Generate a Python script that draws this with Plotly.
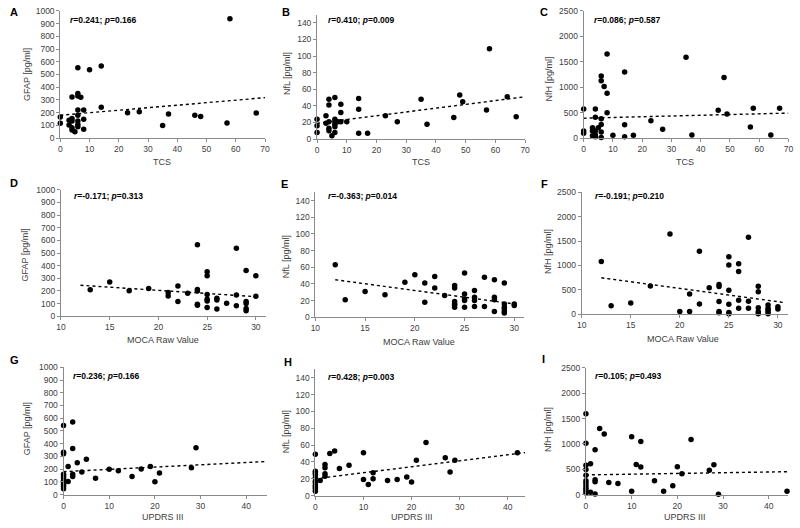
import plotly.graph_objects as go

W, H = 800, 528

# ---------------- data ----------------
A_TCS = [0, 0, 3, 3, 4, 4, 4, 4, 4, 5, 6, 6, 6, 6, 6, 6, 6, 6, 7, 8, 8, 8, 10, 14, 14,
         23, 27, 35, 37, 46, 48, 57, 58, 67]
A_GFAP = [167, 116, 141, 103, 324, 154, 134, 82, 64, 51, 553, 350, 332, 221, 180, 134, 108, 90,
          321, 221, 149, 69, 537, 566, 242, 200, 208, 100, 190, 180, 170, 118, 938, 198]

B_TCS = [0, 0, 0, 3, 3, 4, 4, 4, 4, 4, 5, 6, 6, 6, 6, 6, 6, 7, 8, 8, 8, 10, 14, 14, 14, 17,
         23, 27, 35, 37, 46, 48, 49, 57, 58, 64, 67]
B_NFL = [24, 16, 8, 28, 19, 48, 41, 21, 13, 10, 4, 50, 24, 21, 18, 15, 8, 21, 42, 32, 21, 21,
         49, 36, 7, 7, 28, 21, 48, 18, 26, 53, 45, 35, 109, 51, 27]

C_TCS = [0, 0, 0, 3, 3, 3, 4, 4, 4, 4, 4, 5, 6, 6, 6, 6, 6, 6, 7, 8, 8, 8, 10, 14, 14, 14, 17,
         23, 27, 35, 37, 46, 48, 49, 57, 58, 64, 67]
C_NFH = [572, 141, 96, 206, 141, 45, 572, 411, 141, 64, 26, 206, 1221, 1125, 379, 270, 122, 13,
         1015, 1652, 880, 501, 58, 1298, 263, 26, 58, 341, 174, 1588, 64, 546, 1189, 476, 219,
         585, 64, 585]

D_MOCA = [13, 15, 17, 19, 21, 21, 22, 22, 23, 24, 24, 24, 24, 24, 25, 25, 25, 25, 25, 25,
          26, 26, 26, 27, 28, 28, 28, 29, 29, 29, 29, 29, 30, 30]
D_GFAP = [209, 271, 202, 220, 187, 160, 240, 116, 183, 566, 212, 199, 96, 88, 351, 320, 173,
          134, 121, 70, 142, 129, 57, 103, 537, 168, 83, 362, 116, 101, 62, 44, 320, 158]

E_MOCA = [12, 13, 15, 17, 19, 20, 21, 21, 22, 22, 23, 24, 24, 24, 24, 24, 24, 25, 25, 25, 25,
          25, 26, 26, 26, 26, 27, 27, 28, 28, 28, 28, 29, 29, 29, 29, 29, 29, 30, 30]
E_NFL = [63, 21, 31, 27, 42, 51, 41, 18, 49, 35, 26, 38, 35, 19, 16, 15, 12, 53, 28, 22, 20,
         12, 32, 24, 20, 13, 48, 13, 45, 24, 21, 7, 41, 16, 12, 10, 7, 5, 16, 14]

F_MOCA = [12, 13, 15, 17, 19, 20, 21, 21, 22, 22, 23, 24, 24, 24, 24, 24, 25, 25, 25, 25, 25,
          25, 26, 26, 26, 26, 27, 27, 27, 28, 28, 28, 28, 28, 29, 29, 29, 29, 29, 30, 30]
F_NFH = [1080, 168, 228, 578, 1646, 54, 54, 410, 1290, 208, 538, 605, 565, 255, 54, 27, 1176,
         1008, 490, 202, 34, 5, 1035, 874, 282, 121, 1579, 262, 121, 571, 457, 128, 47, 5, 188,
         121, 81, 47, 5, 148, 101]

G_UPDRS = [0, 0, 0, 0, 0, 0, 0, 0, 0, 0, 0, 1, 1, 2, 2, 2, 2, 3, 4, 5, 7, 10, 12, 15, 17, 19,
           20, 21, 28, 29]
G_GFAP = [542, 332, 321, 159, 145, 130, 110, 95, 80, 65, 45, 221, 103, 571, 362, 159, 141, 249,
          177, 278, 129, 198, 188, 141, 200, 221, 100, 170, 211, 368]

H_UPDRS = [0, 0, 0, 0, 0, 0, 0, 0, 0, 0, 0, 1, 2, 2, 2, 2, 3, 4, 5, 7, 10, 10, 11, 12, 12, 15,
           17, 19, 20, 21, 23, 27, 28, 29, 42]
H_NFL = [49, 29, 27, 25, 21, 17, 15, 12, 10, 8, 5, 18, 37, 33, 26, 23, 50, 53, 32, 36, 51, 19,
         13, 27, 20, 18, 19, 22, 16, 42, 63, 45, 28, 42, 51]

I_UPDRS = [0, 0, 0, 0, 0, 0, 0, 0, 0, 0, 0, 1, 1, 2, 2, 2, 2, 3, 4, 5, 7, 10, 10, 11, 12, 12,
           15, 17, 19, 20, 21, 23, 27, 28, 29, 44]
I_NFH = [1596, 1014, 581, 497, 381, 271, 226, 174, 123, 78, 32, 607, 45, 885, 291, 252, 13, 1305,
         1195, 239, 220, 1143, 65, 594, 1047, 543, 271, 65, 174, 549, 413, 1085, 478, 588, 5, 65]

# linear trend lines (end points)
TREND_A_X, TREND_A_Y = [0, 70], [180, 318]
TREND_B_X, TREND_B_Y = [0, 70], [19, 51]
TREND_C_X, TREND_C_Y = [0, 70], [392, 492]
TREND_D_X, TREND_D_Y = [12, 30], [245, 155]
TREND_E_X, TREND_E_Y = [12, 30], [45, 16]
TREND_F_X, TREND_F_Y = [12, 30.5], [745, 240]
TREND_G_X, TREND_G_Y = [0, 44.5], [180, 260]
TREND_H_X, TREND_H_Y = [0, 43.6], [20, 51]
TREND_I_X, TREND_I_Y = [0, 44.3], [388, 452]

LETTERS = ["A", "B", "C", "D", "E", "F", "G", "H", "I"]
STATS = ["<i>r</i>=0.241; <i>p</i>=0.166", "<i>r</i>=0.410; <i>p</i>=0.009",
         "<i>r</i>=0.086; <i>p</i>=0.587", "<i>r</i>=-0.171; <i>p</i>=0.313",
         "<i>r</i>=-0.363; <i>p</i>=0.014", "<i>r</i>=-0.191; <i>p</i>=0.210",
         "<i>r</i>=0.236; <i>p</i>=0.166", "<i>r</i>=0.428; <i>p</i>=0.003",
         "<i>r</i>=0.105; <i>p</i>=0.493"]
X_TITLES = ["TCS", "TCS", "TCS", "MOCA Raw Value", "MOCA Raw Value", "MOCA Raw Value",
            "UPDRS III", "UPDRS III", "UPDRS III"]
Y_TITLES = ["GFAP [pg/ml]", "NfL [pg/ml]", "NfH [pg/ml]"] * 3

SERIES = [(A_TCS, A_GFAP), (B_TCS, B_NFL), (C_TCS, C_NFH),
          (D_MOCA, D_GFAP), (E_MOCA, E_NFL), (F_MOCA, F_NFH),
          (G_UPDRS, G_GFAP), (H_UPDRS, H_NFL), (I_UPDRS, I_NFH)]
TRENDS = [(TREND_A_X, TREND_A_Y), (TREND_B_X, TREND_B_Y), (TREND_C_X, TREND_C_Y),
          (TREND_D_X, TREND_D_Y), (TREND_E_X, TREND_E_Y), (TREND_F_X, TREND_F_Y),
          (TREND_G_X, TREND_G_Y), (TREND_H_X, TREND_H_Y), (TREND_I_X, TREND_I_Y)]

# ---------------- layout geometry (pixels) ----------------
# x pixel at range min / max, x range, x dtick, y pixel bottom/top, y max, y dtick
GEOM = [
    (56.0, 263.3, 0, 70, 10, 135.7, 6.0, 1000, 100),
    (316.0, 526.7, 0, 70, 10, 136.7, 9.8, 150, 20),
    (586.0, 793.3, 0, 70, 10, 135.7, 6.0, 2500, 500),
    (56.7, 263.9, 10, 31, 5, 317.3, 188.3, 1000, 100),
    (314.3, 525.8, 10, 31, 5, 318.3, 190.8, 150, 20),
    (584.0, 792.6, 10, 31, 5, 315.0, 191.0, 2500, 500),
    (59.3, 265.1, 0, 44.5, 10, 499.0, 369.3, 1000, 100),
    (314.3, 526.7, 0, 43.6, 10, 500.0, 371.4, 150, 20),
    (588.3, 793.3, 0, 44.3, 10, 499.0, 370.0, 2500, 500),
]
LETTER_POS = [(3, 7), (278, 7.5), (540, 7), (3, 181.5), (277, 182), (541, 182),
              (3, 362), (280, 364), (542, 361)]
STAT_POS = [(64, 15), (325, 15), (594, 15), (68, 195), (325, 195), (595, 195),
            (67, 378), (325, 379), (595, 378)]
XT_POS = [(159, 160), (421, 160), (689, 160), (160, 341.5), (419, 343), (687, 340),
          (160, 522), (411.7, 522), (689, 522)]
YT_POS = [(21.7, 71), (285, 70), (550.7, 75), (20.7, 255), (284, 256.7), (550, 251.7),
          (21.7, 432), (284, 435), (550, 433)]

FONT = "Arial, 'Liberation Sans', sans-serif"
AXCOL = "#8a8a8a"
TXT = "#262626"

fig = go.Figure()
layout = dict(width=W, height=H, margin=dict(l=0, r=0, t=0, b=0),
              paper_bgcolor="white", plot_bgcolor="white", showlegend=False,
              font=dict(family=FONT, color=TXT))
annotations = []

for i in range(9):
    n = i + 1
    xs = "" if n == 1 else str(n)
    x0p, x1p, xr0, xr1, xdt, ybp, ytp, yr1, ydt = GEOM[i]
    layout["xaxis" + xs] = dict(
        domain=[x0p / W, x1p / W], range=[xr0, xr1], dtick=xdt, tick0=xr0,
        anchor="y" + xs, showline=True, linecolor=AXCOL, linewidth=1,
        ticks="outside", ticklen=3, tickcolor=AXCOL, showgrid=False, zeroline=False,
        tickfont=dict(size=8.5, color="#404040", family=FONT), fixedrange=True)
    layout["yaxis" + xs] = dict(
        domain=[1 - ybp / H, 1 - ytp / H], range=[0, yr1], dtick=ydt, tick0=0,
        anchor="x" + xs, showline=True, linecolor=AXCOL, linewidth=1,
        ticks="outside", ticklen=3, tickcolor=AXCOL, showgrid=False, zeroline=False,
        tickformat="d", tickfont=dict(size=8.5, color="#404040", family=FONT),
        fixedrange=True)

    sx, sy = SERIES[i]
    fig.add_trace(go.Scatter(x=sx, y=sy, mode="markers", xaxis="x" + xs, yaxis="y" + xs,
                             marker=dict(color="black", size=5.5, line=dict(width=0)),
                             cliponaxis=False, hoverinfo="x+y"))
    tx, ty = TRENDS[i]
    fig.add_trace(go.Scatter(x=tx, y=ty, mode="lines", xaxis="x" + xs, yaxis="y" + xs,
                             line=dict(color="black", width=1.4, dash="dot"),
                             hoverinfo="skip"))

    lx, ly = LETTER_POS[i]
    annotations.append(dict(text="<b>%s</b>" % LETTERS[i], x=lx / W, y=1 - ly / H,
                            xref="paper", yref="paper", xanchor="left", yanchor="middle",
                            showarrow=False, font=dict(size=11, color="black", family=FONT)))
    sxp, syp = STAT_POS[i]
    annotations.append(dict(text="<b>%s</b>" % STATS[i], x=sxp / W, y=1 - syp / H,
                            xref="paper", yref="paper", xanchor="left", yanchor="middle",
                            showarrow=False, font=dict(size=8.5, color="black", family=FONT)))
    xtx, xty = XT_POS[i]
    annotations.append(dict(text=X_TITLES[i], x=xtx / W, y=1 - xty / H,
                            xref="paper", yref="paper", xanchor="center", yanchor="middle",
                            showarrow=False, font=dict(size=9, color="#404040", family=FONT)))
    ytx, yty = YT_POS[i]
    annotations.append(dict(text=Y_TITLES[i], x=ytx / W, y=1 - yty / H, textangle=-90,
                            xref="paper", yref="paper", xanchor="center", yanchor="middle",
                            showarrow=False, font=dict(size=9, color="#404040", family=FONT)))

layout["annotations"] = annotations
fig.update_layout(**layout)
fig.write_html("out.html")
